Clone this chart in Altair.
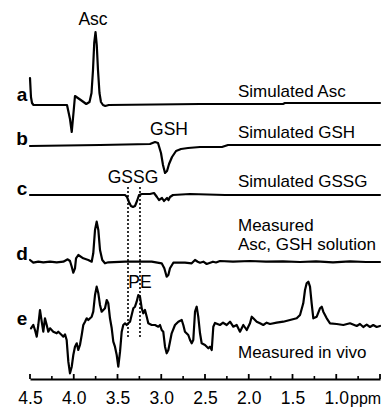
import altair as alt
import pandas as pd

# ---------------- data ----------------
trace_names = ["a", "b", "c", "d", "e"]
trace_offsets = [274, 234, 184, 117, 54]

a_ppm = [4.500, 4.489, 4.477, 4.460, 4.077, 4.043, 4.023, 4.000, 3.986, 3.920, 3.857, 3.820,
         3.797, 3.780, 3.766, 3.751, 3.737, 3.723, 3.706, 3.689, 3.666, 3.640, 3.600, 2.557,
         1.609, 1.586, 0.500]
a_val = [27, 8, 2, 0, 0, -14, -27, -5, 9, 5, 1, 3,
         12, 35, 62, 73, 60, 35, 12, 3, 0, -1, 0, 1,
         1, 2, 2]

b_ppm = [4.500, 3.700, 3.129, 3.071, 3.037, 3.003, 2.980, 2.957, 2.934, 2.911, 2.877, 2.831,
         2.774, 2.694, 2.557, 2.306, 2.237, 0.500]
b_val = [-1, 0, 1, 3, 2, -8, -20, -28, -26, -19, -12, -6,
         -4, -3, -2, -2, 0, 0]

c_ppm = [4.500, 3.414, 3.391, 3.369, 3.346, 3.323, 3.300, 3.277, 3.254, 3.220, 3.129, 3.083,
         3.049, 3.026, 2.991, 2.969, 2.934, 2.917, 2.900, 2.866, 2.671, 2.271, 0.500]
c_val = [0, 0, -2, -7, -11, -12, -11, -6, 0, 1, 1, 2,
         -2, -5, -3, -6, -3, -5, -2, 0, 1, 0, 0]

d_ppm = [4.500, 4.462, 4.405, 4.348, 4.271, 4.195, 4.119, 4.069, 4.043, 4.023, 4.005, 3.986,
         3.974, 3.948, 3.891, 3.834, 3.795, 3.777, 3.757, 3.738, 3.719, 3.700, 3.674, 3.643,
         3.605, 3.414, 3.109, 2.995, 2.965, 2.938, 2.919, 2.900, 2.862, 2.729, 2.652, 2.614,
         2.583, 2.557, 2.519, 2.481, 2.409, 2.374, 2.329, 2.180, 1.986, 1.803, 1.609, 1.414,
         1.231, 1.037, 0.843, 0.660, 0.500]
d_val = [2, -0.7, 0.3, -0.3, 0.3, -0.3, 0.3, 2.7, 1, -4.7, -10.7, -6.3,
         3.7, 7, 3.7, 2, 0.3, 8.7, 32, 40.3, 32, 12, 2, -1.3,
         -0.3, 0.3, 0.3, -1.3, -6.3, -14.7, -13, -6.3, -0.7, -0.7, -1.3, 2,
         0.3, -0.7, 0.3, -2, 0.3, -0.5, 1, 0.3, 1, 0.3, 0.7, 0,
         0.7, -0.3, 0.7, 0, 0]

e_ppm = [4.489, 4.462, 4.443, 4.423, 4.405, 4.386, 4.366, 4.348, 4.329, 4.309, 4.291, 4.271,
         4.234, 4.195, 4.177, 4.138, 4.119, 4.100, 4.081, 4.062, 4.043, 4.023, 4.005, 3.986,
         3.966, 3.948, 3.929, 3.909, 3.891, 3.871, 3.852, 3.834, 3.795, 3.777, 3.757, 3.738,
         3.719, 3.700, 3.681, 3.643, 3.623, 3.605, 3.586, 3.566, 3.548, 3.529, 3.509, 3.491,
         3.471, 3.452, 3.434, 3.414, 3.395, 3.377, 3.357, 3.338, 3.319, 3.300, 3.281, 3.262,
         3.243, 3.223, 3.205, 3.186, 3.166, 3.148, 3.109, 3.071, 3.034, 3.014, 2.995, 2.977,
         2.957, 2.938, 2.919, 2.900, 2.881, 2.843, 2.805, 2.766, 2.748, 2.729, 2.691, 2.671,
         2.652, 2.634, 2.614, 2.595, 2.577, 2.557, 2.538, 2.500, 2.462, 2.443, 2.423, 2.405,
         2.386, 2.329, 2.294, 2.252, 2.214, 2.177, 2.138, 2.100, 2.062, 2.023, 1.986, 1.966,
         1.948, 1.909, 1.871, 1.834, 1.795, 1.757, 1.681, 1.605, 1.529, 1.452, 1.414, 1.377,
         1.357, 1.338, 1.319, 1.300, 1.281, 1.262, 1.223, 1.186, 1.166, 1.148, 1.109, 1.071,
         0.995, 0.919, 0.843, 0.766, 0.729, 0.691, 0.652, 0.614, 0.577, 0.538, 0.500]
e_val = [-3.3, 0, -5, -11.7, 0, 15, 3.3, -6.7, 6.7, 0, -6.7, -3.3,
         -6.7, -8.3, -6.7, -10, -11.7, -9.3, -15, -36.7, -48.3, -41.7, -30, -21.7,
         -18.3, -25, -20, -10, 0, 3.3, 6.7, 5, 8.3, 13.3, 30, 38.3,
         31.7, 20, 13.3, 16.7, 25, 21.7, 6.7, -3.3, -16.7, -21.7, -30, -41.7,
         -26.7, -6.7, 0, 1.7, 0, 1.7, 3.3, 10, 16.7, 18.3, 23.3, 30,
         28.3, 16.7, 11.7, 15, 8.3, 1.7, 0, 0, -1.7, 0, -5, -6.7,
         -21.7, -28.3, -25, -16.7, -8.3, 0, 3.3, 5, 0, -6.7, -10, -15,
         -18.3, -15, 13.3, 18.3, 8.3, -8.3, -18.3, -20, -23.3, -21.7, -25, -1.7,
         2, 0, 2.3, 0, 3.3, -1.7, 0, -6.7, 0, -5, 1.7, 8.3,
         6.7, 3.3, 1.7, 0, 2.3, 1, 2.3, 3.3, 5, 6.7, 10, 21.7,
         35, 41.7, 43.3, 38.3, 21.7, 6.7, 8.3, 16.7, 18.3, 13.3, 6.7, 1.7,
         1, 0, 1.7, -1, 1, -2, 0.3, -2, 0, -2, -1]

trace_ppm = [a_ppm, b_ppm, c_ppm, d_ppm, e_ppm]
trace_val = [a_val, b_val, c_val, d_val, e_val]

letter_labels = ["a", "b", "c", "d", "e"]
letter_ppm = [4.591, 4.591, 4.591, 4.591, 4.591]
letter_y = [278, 234, 184, 119, 54]

desc_labels = ["Simulated Asc", "Simulated GSH", "Simulated GSSG", "Measured",
               "Asc, GSH solution", "Measured in vivo"]
desc_ppm = [2.123, 2.123, 2.123, 2.123, 2.123, 2.123]
desc_y = [282, 241, 192, 148, 129, 21]

peak_labels = ["Asc", "GSH", "GSSG", "PE"]
peak_ppm = [3.78, 2.911, 3.323, 3.243]
peak_y = [354, 244, 196, 91]

marker_ppm = [3.38, 3.243]
marker_top = [192, 192]
marker_bottom = [42, 42]

tick_values = [4.5, 4.0, 3.5, 3.0, 2.5, 2.0, 1.5, 1.0, 0.5]
minor_values = [4.25, 3.75, 3.25, 2.75, 2.25, 1.75, 1.25, 0.75]
unit_label = "ppm"
unit_ppm = 0.843
unit_y = -25

# ---------------- tables ----------------
rows = []
for name, off, pp, vv in zip(trace_names, trace_offsets, trace_ppm, trace_val):
    for i, (p, v) in enumerate(zip(pp, vv)):
        rows.append({"trace": name, "i": i, "ppm": p, "y": off + v})
spec_df = pd.DataFrame(rows)

letters_df = pd.DataFrame({"t": letter_labels, "ppm": letter_ppm, "y": letter_y})
desc_df = pd.DataFrame({"t": desc_labels, "ppm": desc_ppm, "y": desc_y})
peak_df = pd.DataFrame({"t": peak_labels, "ppm": peak_ppm, "y": peak_y})
marker_df = pd.DataFrame({"ppm": marker_ppm, "y1": marker_bottom, "y2": marker_top})
major_df = pd.DataFrame({"ppm": tick_values})
minor_df = pd.DataFrame({"ppm": minor_values})
unit_df = pd.DataFrame({"t": [unit_label], "ppm": [unit_ppm], "y": [unit_y]})

FONT = "Liberation Sans"
W, H = 350, 371

xs = alt.Scale(domain=[0.5, 4.5], reverse=True, nice=False, zero=False)
ys = alt.Scale(domain=[0, H], nice=False, zero=False)

x_axis = alt.Axis(values=tick_values, format=".1f",
                  labelExpr="datum.value < 0.75 ? '' : datum.label",
                  ticks=False, grid=False, domainColor="black", domainWidth=2,
                  labelFont=FONT, labelFontSize=17.5, labelColor="black",
                  labelPadding=10, labelOverlap=False, labelFlush=False, title=None)

lines = alt.Chart(spec_df).mark_line(color="black", strokeWidth=2.2, strokeJoin="round",
                                     strokeCap="round").encode(
    x=alt.X("ppm:Q", scale=xs, axis=x_axis),
    y=alt.Y("y:Q", scale=ys, axis=None),
    detail="trace:N",
    order="i:Q",
)

markers = alt.Chart(marker_df).mark_rule(color="black", strokeWidth=1.6, strokeDash=[2, 2]).encode(
    x=alt.X("ppm:Q", scale=xs), y=alt.Y("y1:Q", scale=ys), y2="y2:Q")

major = alt.Chart(major_df).mark_rule(color="black", strokeWidth=1.8).encode(
    x=alt.X("ppm:Q", scale=xs), y=alt.value(H), y2=alt.value(H - 5))
minor = alt.Chart(minor_df).mark_rule(color="black", strokeWidth=1.6).encode(
    x=alt.X("ppm:Q", scale=xs), y=alt.value(H), y2=alt.value(H - 3))

letters = alt.Chart(letters_df).mark_text(font=FONT, fontSize=19, fontWeight="bold",
                                          align="center", baseline="alphabetic",
                                          color="black").encode(
    x=alt.X("ppm:Q", scale=xs), y=alt.Y("y:Q", scale=ys), text="t:N")

descs = alt.Chart(desc_df).mark_text(font=FONT, fontSize=17, align="left",
                                     baseline="alphabetic", color="black").encode(
    x=alt.X("ppm:Q", scale=xs), y=alt.Y("y:Q", scale=ys), text="t:N")

peaks = alt.Chart(peak_df).mark_text(font=FONT, fontSize=17.5, align="center",
                                     baseline="alphabetic", color="black").encode(
    x=alt.X("ppm:Q", scale=xs), y=alt.Y("y:Q", scale=ys), text="t:N")

unit = alt.Chart(unit_df).mark_text(font=FONT, fontSize=16, align="left",
                                    baseline="alphabetic", color="black").encode(
    x=alt.X("ppm:Q", scale=xs), y=alt.Y("y:Q", scale=ys), text="t:N")

chart = alt.layer(lines, markers, major, minor, letters, descs, peaks, unit).properties(
    width=W, height=H,
    autosize=alt.AutoSizeParams(type="none"),
    padding={"left": 22, "top": 0, "right": 3, "bottom": 29},
    background="white",
).configure_view(stroke=None)

chart.save("out.html", embed_options={"renderer": "svg", "actions": False})
